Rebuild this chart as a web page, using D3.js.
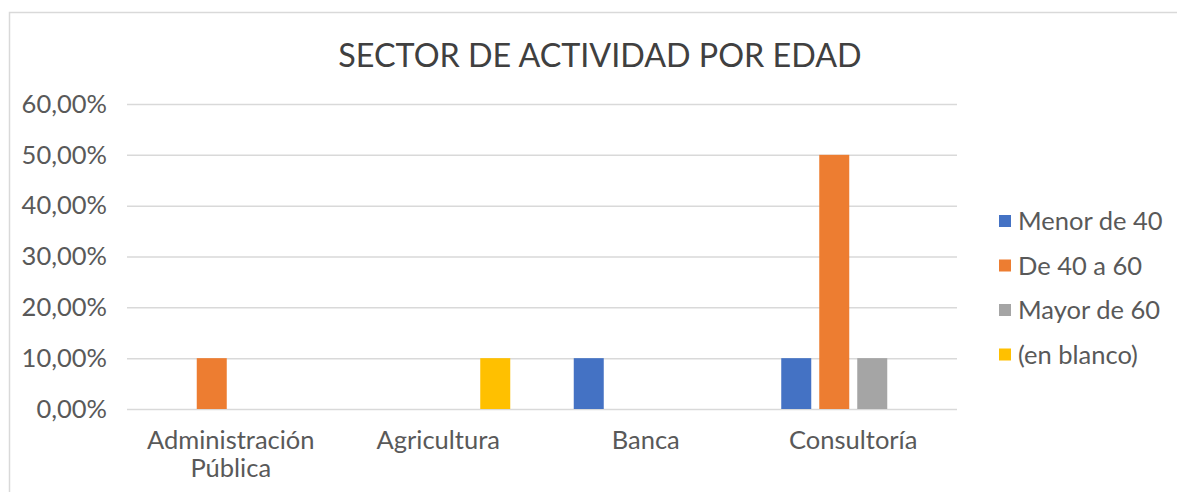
<!DOCTYPE html>
<html lang="es">
<head>
<meta charset="utf-8"/>
<title>Sector de actividad por edad</title>
<script src="https://d3js.org/d3.v7.min.js"></script>
<style>
  body { margin: 0; background: #fff; }
  text { font-family: "Lato", "DejaVu Sans", sans-serif; fill: #595959; }
</style>
</head>
<body>
<script>
// data
var categories = [["Administración", "Pública"], ["Agricultura"], ["Banca"], ["Consultoría"]];
var seriesNames = ["Menor de 40", "De 40 a 60", "Mayor de 60", "(en blanco)"];
var seriesColors = ["#4472C4", "#ED7D31", "#A5A5A5", "#FFC000"];
// one row per series, one value per category (fraction)
var menor40 = [0, 0, 0.10, 0.10];
var de40a60 = [0.10, 0, 0, 0.50];
var mayor60 = [0, 0, 0, 0.10];
var enBlanco = [0, 0.10, 0, 0];
var yTicks = [0, 0.1, 0.2, 0.3, 0.4, 0.5, 0.6];

var values = [menor40, de40a60, mayor60, enBlanco];

var w = 1177, h = 492;
var plotLeft = 127, plotRight = 957, plotTop = 104, plotBottom = 409;
var labelSize = "25.5px";
var barStep = 38, barGap = 8;
var groupWidth = seriesNames.length * barStep - barGap;

var svg = d3.select("body").append("svg")
    .attr("width", w)
    .attr("height", h);

// frame
svg.append("rect")
    .attr("x", 9.5).attr("y", 12.5)
    .attr("width", 1200).attr("height", 500)
    .attr("fill", "none")
    .attr("stroke", "#D9D9D9")
    .attr("stroke-width", 1.5);

// title
svg.append("text")
    .attr("x", 600).attr("y", 67)
    .attr("text-anchor", "middle")
    .style("font-size", "32.3px")
    .style("fill", "#404040")
    .text("SECTOR DE ACTIVIDAD POR EDAD");

var x0 = d3.scaleBand()
    .domain(d3.range(categories.length))
    .range([plotLeft, plotRight]);

var x1 = d3.scaleBand()
    .domain(d3.range(seriesNames.length))
    .range([0, groupWidth])
    .paddingInner(barGap / barStep);

var y = d3.scaleLinear()
    .domain([0, 0.6])
    .range([plotBottom, plotTop]);

var fmt = function(d) { return d3.format(".2f")(d * 100).replace(".", ",") + "%"; };

// gridlines + y labels
var yAxis = d3.axisLeft(y)
    .tickValues(yTicks)
    .tickSize(-(plotRight - plotLeft))
    .tickPadding(20)
    .tickFormat(fmt);

var gy = svg.append("g")
    .attr("transform", "translate(" + plotLeft + ",0)")
    .call(yAxis);
gy.select(".domain").remove();
gy.selectAll(".tick line").attr("stroke", "#D9D9D9").attr("stroke-width", 1.5);
gy.selectAll(".tick text")
    .style("font-size", labelSize)
    .style("font-family", "Lato, sans-serif")
    .attr("fill", "#595959");

// bars
var groups = svg.selectAll("g.cat")
    .data(categories)
    .enter()
    .append("g")
    .attr("class", "cat")
    .attr("transform", function(d, i) {
        return "translate(" + (x0(i) + x0.bandwidth() / 2 - groupWidth / 2) + ",0)";
    });

groups.selectAll("rect")
    .data(function(d, i) {
        return values.map(function(s, j) { return { s: j, v: s[i] }; });
    })
    .enter()
    .append("rect")
    .attr("x", function(d) { return x1(d.s); })
    .attr("width", x1.bandwidth())
    .attr("y", function(d) { return y(d.v); })
    .attr("height", function(d) { return plotBottom - y(d.v); })
    .attr("fill", function(d) { return seriesColors[d.s]; });

// category labels
var labels = svg.selectAll("text.cat")
    .data(categories)
    .enter()
    .append("text")
    .attr("class", "cat")
    .attr("text-anchor", "middle")
    .attr("x", function(d, i) { return x0(i) + x0.bandwidth() / 2; })
    .attr("y", 449)
    .style("font-size", labelSize);

labels.selectAll("tspan")
    .data(function(d) { return d; })
    .enter()
    .append("tspan")
    .attr("x", function() { return d3.select(this.parentNode).attr("x"); })
    .attr("dy", function(d, i) { return i === 0 ? 0 : 28; })
    .text(function(d) { return d; });

// legend
var legend = svg.selectAll("g.legend")
    .data(seriesNames)
    .enter()
    .append("g")
    .attr("class", "legend")
    .attr("transform", function(d, i) { return "translate(999," + (221 + i * 44.5) + ")"; });

legend.append("rect")
    .attr("x", 0).attr("y", -6)
    .attr("width", 12).attr("height", 12)
    .attr("fill", function(d, i) { return seriesColors[i]; });

legend.append("text")
    .attr("x", 19).attr("y", 9)
    .style("font-size", labelSize)
    .text(function(d) { return d; });
</script>
</body>
</html>
